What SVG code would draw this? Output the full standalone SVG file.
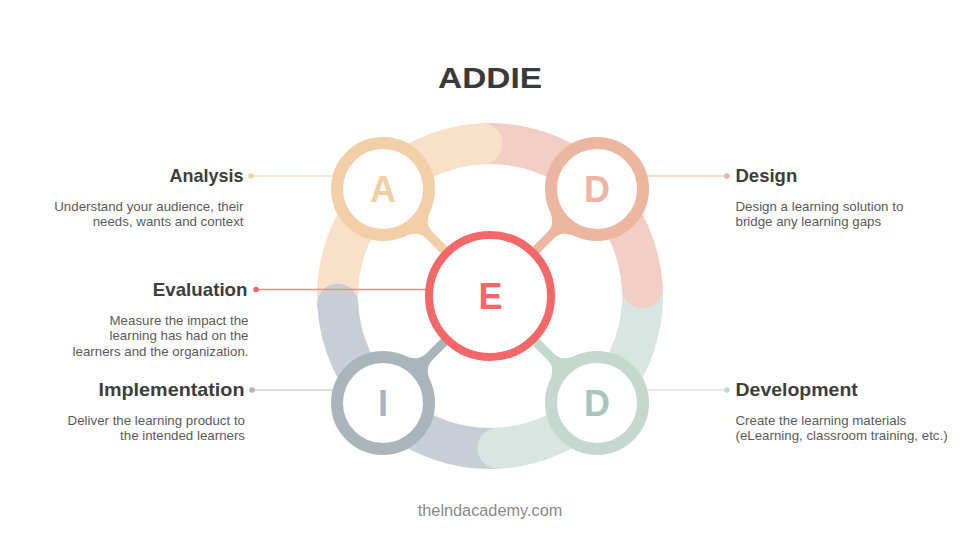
<svg xmlns="http://www.w3.org/2000/svg" width="980" height="551" viewBox="0 0 980 551">
<style>
.title{font-family:"Liberation Sans",Arial,sans-serif;font-weight:700;font-size:30px;fill:#3a3a3a}
.head{font-family:"Liberation Sans",Arial,sans-serif;font-weight:700;font-size:19px;fill:#3d3d3d}
.desc{font-family:"Liberation Sans",Arial,sans-serif;font-size:13.3px;fill:#5a5a5a}
.letter{font-family:"Liberation Sans",Arial,sans-serif;font-weight:700;font-size:36px;text-anchor:middle}
.foot{font-family:"Liberation Sans",Arial,sans-serif;font-size:16.3px;fill:#8a8a8a;text-anchor:middle}
.arc{fill:none;stroke-width:41;stroke-linecap:butt}
.node{fill:#fff;stroke-width:12}
.lead{stroke-width:1.5;fill:none}
.l{text-anchor:end}
</style>
<defs>
<path id="neck" d="M47.1,-22 C52,-10 56,-4.5 66,-4.5 L92,-4.5 L92,4.5 L66,4.5 C56,4.5 52,10 47.1,22 Z"/>
</defs>
<rect width="980" height="551" fill="#fff"/>
<text class="title" x="490" y="87.5" text-anchor="middle" textLength="104" lengthAdjust="spacingAndGlyphs">ADDIE</text>

<g id="ring">
<path class="arc" stroke="#F9E1C9" d="M337.71,303.98 A152.5,152.5 0 0 1 482.02,143.71"/>
<path class="arc" stroke="#F2CFC4" d="M482.02,143.71 A152.5,152.5 0 0 1 642.29,288.02"/>
<path class="arc" stroke="#D8E6E1" d="M642.29,288.02 A152.5,152.5 0 0 1 497.98,448.29"/>
<path class="arc" stroke="#C8CED5" d="M497.98,448.29 A152.5,152.5 0 0 1 337.71,303.98"/>
<circle cx="482.02" cy="143.71" r="20.5" fill="#F9E1C9"/>
<circle cx="642.29" cy="288.02" r="20.5" fill="#F2CFC4"/>
<circle cx="497.98" cy="448.29" r="20.5" fill="#D8E6E1"/>
<circle cx="337.71" cy="303.98" r="20.5" fill="#C8CED5"/>
</g>

<g id="connectors">
<line class="lead" stroke="#F7DCC4" x1="251" y1="176" x2="340" y2="176"/>
<circle cx="251" cy="176" r="2.8" fill="#F2CFA7"/>
<line class="lead" stroke="#F4CFC3" x1="640" y1="176" x2="727" y2="176"/>
<circle cx="727" cy="176" r="2.8" fill="#EDB5A0"/>
<line class="lead" stroke="#F08A8A" stroke-width="1.2" x1="256" y1="289.5" x2="440" y2="289.5"/>
<circle cx="256" cy="289.5" r="2.8" fill="#F26868"/>
<line class="lead" stroke="#CDD3D9" x1="252" y1="390" x2="340" y2="390"/>
<circle cx="252" cy="390" r="2.8" fill="#AAB5BC"/>
<line class="lead" stroke="#D8E6E1" x1="640" y1="390" x2="727" y2="390"/>
<circle cx="727" cy="390" r="2.8" fill="#C4D8D0"/>
<use href="#neck" fill="#F2CFA7" transform="translate(383,189) rotate(45)"/>
<use href="#neck" fill="#EDB6A1" transform="translate(597,189) rotate(135)"/>
<use href="#neck" fill="#A9B4BB" transform="translate(383,403) rotate(-45)"/>
<use href="#neck" fill="#C4D8D0" transform="translate(597,403) rotate(-135)"/>
</g>

<g id="node-analysis">
<circle class="node" cx="383" cy="189" r="46" stroke="#F2CFA7"/>
<text class="letter" x="383" y="202" fill="#F2CFA7">A</text>
<text class="head l" x="243.5" y="182" textLength="74" lengthAdjust="spacingAndGlyphs">Analysis</text>
<text class="desc l" x="243.5" y="210.5">Understand your audience, their</text>
<text class="desc l" x="243.5" y="226">needs, wants and context</text>
</g>

<g id="node-design">
<circle class="node" cx="597" cy="189" r="46" stroke="#EDB6A1"/>
<text class="letter" x="597" y="202" fill="#EDB6A1">D</text>
<text class="head" x="735.5" y="182" textLength="61.7" lengthAdjust="spacingAndGlyphs">Design</text>
<text class="desc" x="735.5" y="210.5">Design a learning solution to</text>
<text class="desc" x="735.5" y="226">bridge any learning gaps</text>
</g>

<g id="node-implementation">
<circle class="node" cx="383" cy="403" r="46" stroke="#A9B4BB"/>
<text class="letter" x="383" y="415.7" fill="#A9B4BB">I</text>
<text class="head l" x="244.5" y="396" textLength="146" lengthAdjust="spacingAndGlyphs">Implementation</text>
<text class="desc l" x="245" y="424.5">Deliver the learning product to</text>
<text class="desc l" x="245" y="440">the intended learners</text>
</g>

<g id="node-development">
<circle class="node" cx="597" cy="403" r="46" stroke="#C4D8D0"/>
<text class="letter" x="597" y="415.7" fill="#A8C6BA">D</text>
<text class="head" x="735.5" y="396" textLength="122.3" lengthAdjust="spacingAndGlyphs">Development</text>
<text class="desc" x="735.5" y="424.5">Create the learning materials</text>
<text class="desc" x="735.5" y="440">(eLearning, classroom training, etc.)</text>
</g>

<g id="node-evaluation">
<circle cx="490" cy="296" r="61" fill="#fff" stroke="#F26868" stroke-width="8"/>
<text class="letter" x="490.5" y="309" fill="#F26868">E</text>
<text class="head l" x="247.5" y="295.5" textLength="94.7" lengthAdjust="spacingAndGlyphs">Evaluation</text>
<text class="desc l" x="248.5" y="324.5">Measure the impact the</text>
<text class="desc l" x="248.5" y="340">learning has had on the</text>
<text class="desc l" x="248.5" y="355.5">learners and the organization.</text>
</g>

<text class="foot" x="490" y="515.5">thelndacademy.com</text>
</svg>
